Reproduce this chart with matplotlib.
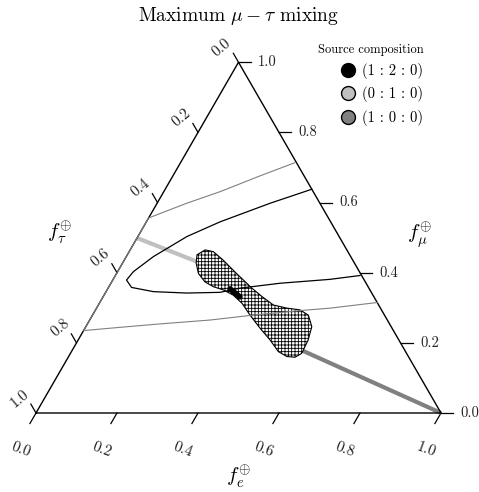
import numpy as np
import matplotlib
matplotlib.use("Agg")
import matplotlib.pyplot as plt
from matplotlib.lines import Line2D
from matplotlib.patches import Polygon

plt.rcParams['font.family'] = 'serif'
plt.rcParams['font.serif'] = ['cmr10', 'DejaVu Serif']
plt.rcParams['mathtext.fontset'] = 'cm'
plt.rcParams['axes.unicode_minus'] = False
plt.rcParams['hatch.linewidth'] = 0.6

# flavour fractions at Earth: (f_e, f_mu), f_tau = 1 - f_e - f_mu
# thin gray contour (runs in from the right edge, along the left edge, back out)
gray_e = [0.685, 0.577, 0.506, 0.396, 0.297, 0.179, 0.102, 0.0,
          0.0, 0.073, 0.139, 0.215, 0.283]
gray_mu = [0.315, 0.299, 0.292, 0.279, 0.265, 0.254, 0.246, 0.235,
           0.556, 0.598, 0.631, 0.676, 0.714]

# thin black contour
black_e = [0.362, 0.279, 0.182, 0.121, 0.067, 0.039, 0.034, 0.057,
           0.117, 0.201, 0.282, 0.326, 0.418, 0.535, 0.604]
black_mu = [0.638, 0.598, 0.545, 0.503, 0.446, 0.403, 0.379, 0.358,
            0.346, 0.342, 0.344, 0.356, 0.370, 0.381, 0.392]

# hatched allowed region
region_e = [0.185, 0.172, 0.182, 0.202, 0.230, 0.258, 0.287, 0.319, 0.352,
            0.389, 0.432, 0.474, 0.511, 0.539, 0.560, 0.571, 0.568, 0.558,
            0.533, 0.505, 0.470, 0.432, 0.392, 0.355, 0.296, 0.244, 0.208]
region_mu = [0.465, 0.451, 0.427, 0.398, 0.374, 0.360, 0.351, 0.336, 0.313,
             0.279, 0.242, 0.208, 0.175, 0.161, 0.159, 0.170, 0.208, 0.246,
             0.279, 0.294, 0.299, 0.308, 0.332, 0.356, 0.398, 0.436, 0.460]

# source composition bands
src_010_e = [0.0, 0.237]
src_010_mu = [0.499, 0.411]
src_100_e = [0.530, 1.0]
src_100_mu = [0.194, 0.0]
src_120_e = [0.302, 0.338]
src_120_mu = [0.354, 0.331]

ticks = [0.0, 0.2, 0.4, 0.6, 0.8, 1.0]
legend_labels = ['(1 : 2 : 0)', '(0 : 1 : 0)', '(1 : 0 : 0)']
legend_colors = ['black', '#c0c0c0', '#808080']

S3 = np.sqrt(3) / 2


def to_xy(e, mu):
    e = np.asarray(e, float)
    mu = np.asarray(mu, float)
    return e + mu / 2, mu * S3


fig = plt.figure(figsize=(4.79, 4.92), dpi=100)
ax = fig.add_axes([0, 0, 1, 1])
ax.set_xlim(-36 / 405, 443 / 405)
ax.set_ylim(-79 / 405, 413 / 405)
ax.axis('off')

# triangle
tx, ty = to_xy([0, 1, 0, 0], [0, 0, 1, 0])
ax.plot(tx, ty, color='black', lw=1.0, zorder=3, solid_joinstyle='miter')

tl = 0.03
for t in ticks:
    # bottom axis: f_e
    x, y = to_xy(t, 0)
    ax.plot([x, x - 0.5 * tl], [y, y - S3 * tl], color='black', lw=0.9)
    ax.text(x - 0.037, y - 0.091, f'{t:.1f}', fontsize=11, rotation=-20,
            ha='center', va='center', color='#222222')
    # right axis: f_mu
    x, y = to_xy(1 - t, t)
    ax.plot([x, x + tl], [y, y], color='black', lw=0.9)
    ax.text(x + tl + 0.018, y, f'{t:.1f}', fontsize=10.5,
            ha='left', va='center', color='#222222')
    # left axis: f_tau
    x, y = to_xy(0, 1 - t)
    ax.plot([x, x - 0.5 * tl * 0.85], [y, y + S3 * tl * 0.85], color='black', lw=0.9)
    ax.text(x - 0.041, y + 0.036, f'{t:.1f}', fontsize=11, rotation=40,
            ha='center', va='center', color='#222222')

ax.text(0.4995, -0.158, r'$f_e^{\oplus}$', fontsize=15, ha='center', va='center')
ax.text(0.059, 0.444, r'$f_\tau^{\oplus}$', fontsize=15, ha='center', va='center')
ax.text(0.948, 0.440, r'$f_\mu^{\oplus}$', fontsize=15, ha='center', va='center')
ax.text(0.4995, 0.980, r'Maximum $\mu - \tau$ mixing', fontsize=14,
        ha='center', va='center')

# source lines
x, y = to_xy(src_010_e, src_010_mu)
ax.plot(x, y, color='#c0c0c0', lw=3.0, zorder=2, solid_capstyle='butt')
x, y = to_xy(src_100_e, src_100_mu)
ax.plot(x, y, color='#808080', lw=3.0, zorder=2, solid_capstyle='butt')

# hatched region
x, y = to_xy(region_e, region_mu)
ax.add_patch(Polygon(np.column_stack([x, y]), closed=True, facecolor='white',
                     edgecolor='black', hatch='+++++', lw=0.8, zorder=4,
                     joinstyle='round'))

# contours
x, y = to_xy(gray_e, gray_mu)
ax.plot(x, y, color='#808080', lw=0.8, zorder=5)
x, y = to_xy(black_e, black_mu)
ax.plot(x, y, color='black', lw=0.9, zorder=5)

x, y = to_xy(src_120_e, src_120_mu)
ax.plot(x, y, color='black', lw=4.0, zorder=6, solid_capstyle='round')

handles = [Line2D([], [], ls='none', marker='o', ms=10, mfc=c, mec='black', mew=1.0)
           for c in legend_colors]
leg = ax.legend(handles, legend_labels, title='Source composition',
                loc='upper right', bbox_to_anchor=(0.905, 0.932), frameon=False,
                fontsize=10.5, title_fontsize=9, handlelength=1.0,
                handletextpad=0.5, labelspacing=0.5, borderpad=0.2)
leg._legend_box.align = 'right'

fig.savefig('out.png', dpi=100)
